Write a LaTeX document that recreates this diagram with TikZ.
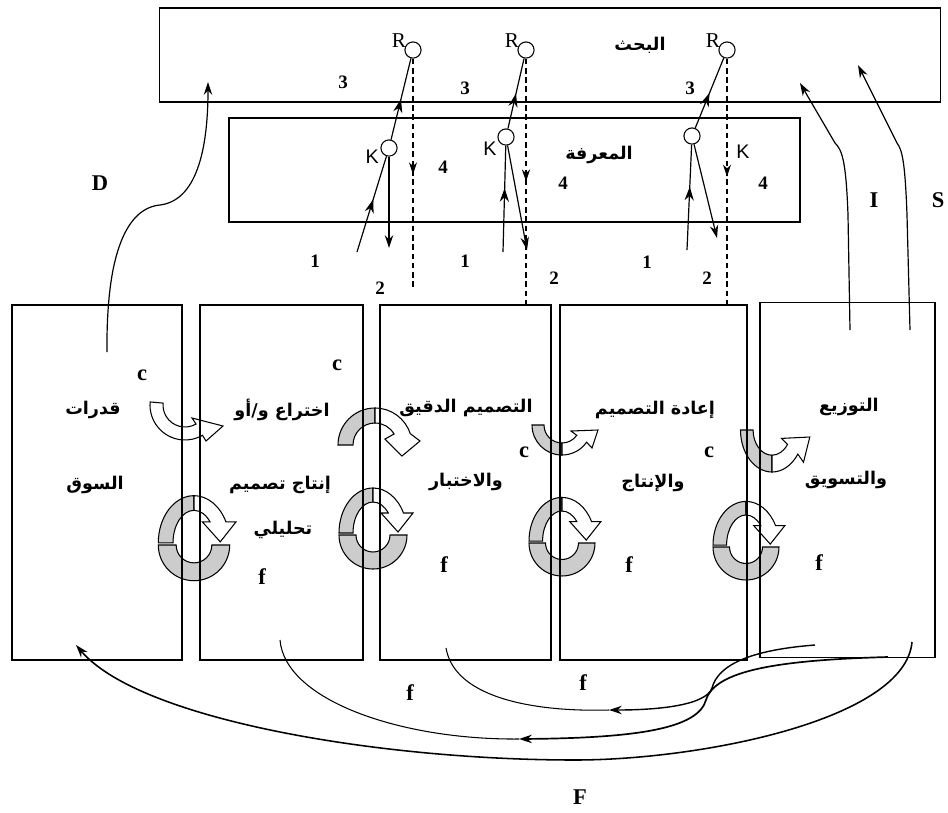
\documentclass[tikz,border=0pt]{standalone}
\usepackage{fontspec}
\setmainfont{Liberation Serif}
\newfontfamily\arabicfont[Script=Arabic]{DejaVu Sans}
\newfontfamily\kfont{Liberation Sans}
\TeXXeTstate=1
\usetikzlibrary{arrows.meta,positioning,calc,decorations.markings}
\definecolor{ink}{HTML}{000000}
\definecolor{ringgray}{HTML}{CCCCCC}
\newcommand{\arab}[1]{{\arabicfont\bfseries\beginR #1\endR}}
\tikzset{
  >={Stealth[length=3.2mm,width=2.1mm]},
  boxline/.style={draw=ink,line width=.85pt,inner sep=0pt},
  knot/.style={circle,draw=ink,line width=.75pt,minimum size=11.5pt,inner sep=0pt,fill=white},
  flow/.style={->,line width=.85pt},
  midflow/.style={line width=.85pt,decoration={markings,mark=at position #1 with {\arrow{Stealth[length=3.4mm,width=2.3mm]}}},postaction={decorate}},
  midflow/.default=.5,
  dashflow/.style={dash pattern=on 4pt off 2.6pt,line width=.75pt,decoration={markings,mark=at position #1 with {\arrow{Stealth[length=3mm,width=2mm]}}},postaction={decorate}},
  dashflow/.default=.5,
  num/.style={font=\bfseries\fontsize{13.5}{13.5}\selectfont},
  tag/.style={font=\bfseries\fontsize{16}{16}\selectfont},
  word/.style={font=\fontsize{12.5}{14}\selectfont},
  rlbl/.style={font=\fontsize{15}{15}\selectfont,inner sep=0pt},
  klbl/.style={font=\kfont\fontsize{14}{14}\selectfont,inner sep=1pt},
  band/.style={draw=ink,line width=.75pt,fill=ringgray},
  hollow/.style={draw=ink,line width=.75pt,fill=white},
  uturn/.pic={
    \path[band] (-30,0) arc[start angle=180,end angle=270,radius=30] -- (0,-18)
      arc[start angle=270,end angle=180,radius=18] -- cycle;
    \path[hollow] (0,-30) arc[start angle=270,end angle=325,radius=30] -- (30,-23) -- (36,-5)
      -- (9,-6) -- (325:18) arc[start angle=325,end angle=270,radius=18] -- cycle;
  },
  spin/.pic={
    \path[band] (-34,0) arc[start angle=180,end angle=360,radius=34] -- (17,0)
      arc[start angle=360,end angle=180,radius=17] -- cycle;
    \path[band] (-34,2) arc[start angle=180,end angle=90,x radius=34,y radius=45] -- (0,33)
      arc[start angle=90,end angle=180,x radius=20,y radius=31] -- cycle;
    \path[hollow] (0,47) arc[start angle=90,end angle=26.4,x radius=34,y radius=45] -- (40,22)
      -- (25,3) -- (8,22) -- (15.3,22) arc[start angle=40.2,end angle=90,x radius=20,y radius=31] -- cycle;
  },
}

\begin{document}
\begin{tikzpicture}[x=0.025cm,y=0.025cm]
  \useasboundingbox (0,0) rectangle (948,-812);

  % turning arrows between the stages
  \begin{scope}[shift={(185,-405)}]
    \path[hollow] (175:35) arc[start angle=175,end angle=300,radius=35] -- (21,-36) -- (38,-21)
      -- (7,-13) -- (300:22) arc[start angle=300,end angle=175,radius=22] -- cycle;
  \end{scope}
  \begin{scope}[shift={(375,-445)}]
    \path[band] (-37,0) arc[start angle=180,end angle=90,radius=37] -- (0,22)
      arc[start angle=90,end angle=180,radius=22] -- cycle;
    \path[hollow] (0,37) arc[start angle=90,end angle=18,radius=37] -- (45,4) -- (27,-11)
      -- (10,6) -- (30:22) arc[start angle=30,end angle=90,radius=22] -- cycle;
  \end{scope}
  \pic at (562,-425) {uturn};
  \pic[xscale=1.05,yscale=1.4] at (772,-430) {uturn};
  \pic[scale=1.05] at (194,-545) {spin};
  \pic at (373,-535) {spin};
  \pic[scale=.97] at (562,-543) {spin};
  \pic[scale=.97] at (746,-547) {spin};

  % boxes
  \node[boxline,minimum width=19.5cm,minimum height=2.35cm] (research) at (550,-55) {};
  \node[boxline,minimum width=14.275cm,minimum height=2.6cm] (knowledge) at (514.5,-170) {};
  \node[boxline,minimum width=4.25cm,minimum height=8.875cm] (market) at (97,-482.5) {};
  \node[boxline,minimum width=4.075cm,minimum height=8.875cm] (invent) at (281.5,-482.5) {};
  \node[boxline,minimum width=4.275cm,minimum height=8.875cm] (design) at (465.5,-482.5) {};
  \node[boxline,minimum width=4.675cm,minimum height=8.875cm] (redesign) at (653.5,-482.5) {};
  \node[boxline,minimum width=4.375cm,minimum height=8.875cm] (retail) at (847.5,-480) {};

  \node[word] (researchtxt) at (640,-45) {\arab{البحث}};
  \node[word] (knowledgetxt) at (599,-155) {\arab{المعرفة}};
  \node[word] (marketa) at (93,-410) {\arab{قدرات}};
  \node[word] (marketb) at (95,-485) {\arab{السوق}};
  \node[word] (inventa) at (282,-410) {\arab{اختراع و/أو}};
  \node[word] (inventb) at (280,-485) {\arab{إنتاج تصميم}};
  \node[word] (inventc) at (283,-530) {\arab{تحليلي}};
  \node[word] (designa) at (466,-408) {\arab{التصميم الدقيق}};
  \node[word] (designb) at (466,-482) {\arab{والاختبار}};
  \node[word] (redesigna) at (655,-410) {\arab{إعادة التصميم}};
  \node[word] (redesignb) at (653,-483) {\arab{والإنتاج}};
  \node[word] (retaila) at (849,-407) {\arab{التوزيع}};
  \node[word] (retailb) at (846,-480) {\arab{والتسويق}};

  % research and knowledge points
  \node[knot,label={[rlbl,label distance=-1pt]160:R}] (r1) at (413,-50) {};
  \node[knot,label={[rlbl,label distance=-1pt]160:R}] (r2) at (526,-50) {};
  \node[knot,label={[rlbl,label distance=-1pt]160:R}] (r3) at (727,-50) {};
  \node[knot,label={[klbl]185:K}] (k1) at (389,-148) {};
  \node[knot,label={[klbl]205:K}] (k2) at (506,-137) {};
  \node[knot] (k3) at (692,-136) {};
  \node[klbl] (k3lbl) at (743,-152) {K};

  \coordinate (u1) at (357,-252);
  \coordinate (v1) at (389,-248);
  \coordinate (u2) at (503,-252);
  \coordinate (v2) at (527,-250);
  \coordinate (u3) at (687,-250);
  \coordinate (v3) at (717,-238);
  \draw[midflow=.55] (u1) -- (k1);
  \draw[midflow=.5] (k1) -- (r1);
  \draw[flow] (k1) -- (v1);
  \draw[dashflow=.5] (r1.south) -- (r1.south |- 0,-290);
  \draw[midflow=.6] (u2) -- (k2);
  \draw[midflow=.5] (k2) -- (r2);
  \draw[flow] (k2) -- (v2);
  \draw[dashflow=.5] (r2.south) -- (r2.south |- design.north);
  \draw[midflow=.6] (u3) -- (k3);
  \draw[midflow=.5] (k3) -- (r3);
  \draw[flow] (k3) -- (v3);
  \draw[dashflow=.48] (r3.south) -- (r3.south |- redesign.north);

  \node[num] (n3a) at (343,-82) {3};
  \node[num] (n3b) at (465,-88) {3};
  \node[num] (n3c) at (690,-88) {3};
  \node[num] (n4a) at (443,-167) {4};
  \node[num] (n4b) at (563,-183) {4};
  \node[num] (n4c) at (763,-183) {4};
  \node[num] (n1a) at (315,-261) {1};
  \node[num] (n1b) at (465,-261) {1};
  \node[num] (n1c) at (647,-262) {1};
  \node[num] (n2a) at (380,-288) {2};
  \node[num] (n2b) at (554,-278) {2};
  \node[num] (n2c) at (707,-278) {2};

  \node[tag] (c1) at (142,-375) {c};
  \node[tag] (c2) at (337,-365) {c};
  \node[tag] (c3) at (524,-452) {c};
  \node[tag] (c4) at (709,-452) {c};
  \node[tag] (f1) at (262,-577) {f};
  \node[tag] (f2) at (444,-565) {f};
  \node[tag] (f3) at (629,-565) {f};
  \node[tag] (f4) at (819,-563) {f};

  % links to research
  \coordinate (dfrom) at (107,-352);
  \coordinate (dto) at (208,-82);
  \draw[flow] (dfrom) .. controls (106,-250) and (128,-208) .. (160,-205)
    .. controls (200,-200) and (208,-140) .. (dto);
  \node[tag] (dlbl) at (100,-183) {D};
  \coordinate (ifrom) at (850,-330);
  \coordinate (ito) at (800,-83);
  \draw[flow] (ifrom) -- (848,-215) .. controls (846,-160) and (842,-150) .. (835,-143) -- (ito);
  \coordinate (sfrom) at (910,-330);
  \coordinate (sto) at (858,-65);
  \draw[flow] (sfrom) -- (907,-215) .. controls (905,-160) and (902,-150) .. (897,-143) -- (sto);
  \node[tag] (ilbl) at (874,-200) {I};
  \node[tag] (slbl) at (938,-200) {S};

  % feedback loops at the bottom
  \coordinate (ffrom) at (912,-642);
  \coordinate (fto) at (76,-645);
  \draw[flow,line width=1.1pt] (ffrom) .. controls (905,-720) and (700,-760) .. (575,-760)
    .. controls (380,-760) and (140,-720) .. (fto);
  \coordinate (mfrom) at (888,-657);
  \coordinate (mtip) at (519,-739);
  \coordinate (mend) at (280,-640);
  \draw[flow,line width=1.2pt] (mfrom) .. controls (780,-660) and (715,-670) .. (706,-700)
    .. controls (698,-728) and (640,-738) .. (mtip);
  \draw[line width=.75pt] (mend) .. controls (285,-700) and (400,-740) .. (mtip);
  \coordinate (ufrom) at (815,-645);
  \coordinate (utip) at (609,-710);
  \coordinate (uend) at (446,-648);
  \draw[flow,line width=1pt] (ufrom) .. controls (750,-650) and (718,-665) .. (712,-688)
    .. controls (706,-705) and (660,-710) .. (utip);
  \draw[line width=.75pt] (uend) .. controls (455,-700) and (540,-712) .. (utip);
  \node[tag] (fb1) at (410,-693) {f};
  \node[tag] (fb2) at (583,-683) {f};
  \node[tag] (flbl) at (580,-797) {F};
\end{tikzpicture}
\end{document}
